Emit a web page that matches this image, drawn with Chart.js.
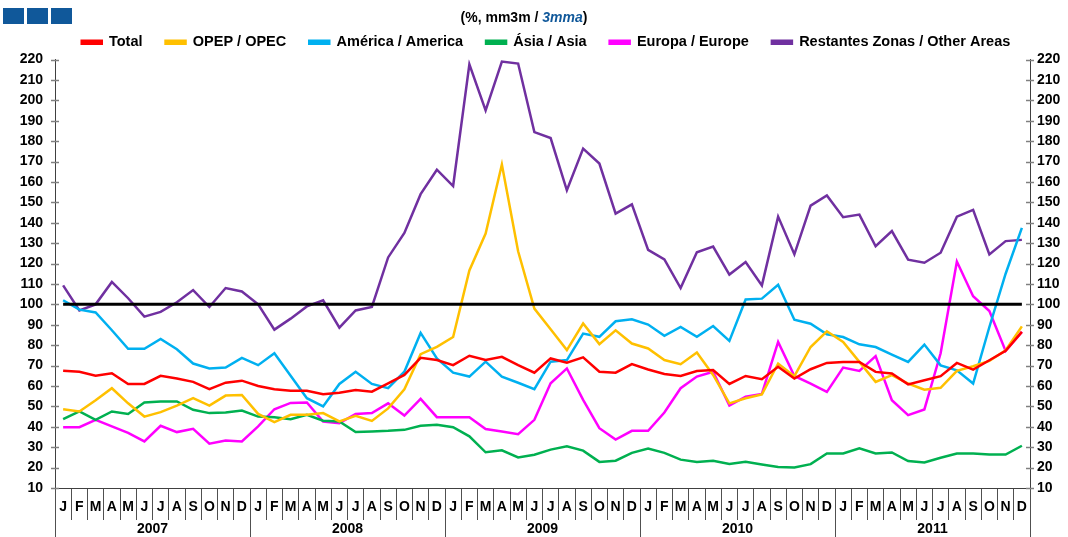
<!DOCTYPE html>
<html>
<head>
<meta charset="utf-8">
<script src="https://cdn.jsdelivr.net/npm/chart.js@4.4.1/dist/chart.umd.min.js"></script>
<style>
  html, body { margin: 0; padding: 0; background: #fff; }
  #wrap { position: relative; width: 1068px; height: 537px; overflow: hidden; }
  #c { position: absolute; left: 0; top: 0; }
  .sq { position: absolute; top: 8px; width: 21px; height: 16px; background: #10589A; }
  #sub { position: absolute; top: 9px; left: 0; width: 1048px; text-align: center;
         font: bold 14px "Liberation Sans", Arial, sans-serif; color: #000; }
  #sub i { color: #10589A; }
</style>
</head>
<body>
<div id="wrap">
  <canvas id="c" width="1068" height="537"></canvas>
  <div class="sq" style="left:3px"></div>
  <div class="sq" style="left:27px"></div>
  <div class="sq" style="left:51px"></div>
  <div id="sub">(%, mm3m / <i>3mma</i>)</div>
</div>
<script>
const MONTHS = ['J','F','M','A','M','J','J','A','S','O','N','D'];
const YEARS = ['2007','2008','2009','2010','2011'];
const Y_MIN = 10, Y_MAX = 220, Y_STEP = 10;
const REF_LEVEL = 100;

const TOTAL = [67.5,67,65,66.2,61,61,65,63.7,62,58.4,61.6,62.6,
  60,58.4,57.7,57.6,56,56.7,58,57.2,61.3,65.4,73.8,72.7,
  70.2,74.8,72.7,74.3,70.2,66.5,73.5,71.4,74,67,66.5,70.7,
  68.1,65.9,64.9,67.3,67.8,61,64.9,63.3,69.4,63.6,68.2,71.3,
  71.8,71.8,66.9,66.1,60.8,62.8,64.8,71.3,68,72.6,77.2,86.5];
const OPEC = [48.6,47.5,53,58.9,51.5,45,47.2,50.4,54,50.4,55.3,55.6,
  46.3,42.3,45.9,45.9,46.7,42.6,45.4,42.9,49,58.4,75.6,79.2,
  84,116.6,134.7,168.5,126,97.9,87.8,77.6,90.6,80.5,87.3,80.8,
  78.4,72.7,70.7,76.4,65.4,51.5,54,55.9,71,64.8,79.1,86.8,
  81.6,71.8,62,65.3,61.2,58.2,59.1,67.4,69.7,72.3,77.5,89.2];
const AMERICA = [102,97.4,96,87.3,78.2,78.2,83,78,71,68.6,69,73.8,
  70.2,76,65,54,50,61,67,61,58.9,67,86,73.5,
  66.5,64.6,71.9,64.6,61.6,58.4,71.9,72.7,85.7,84.1,91.7,92.7,
  90.1,84.6,88.9,84.1,89.4,82.1,102.4,102.8,109.6,92.5,90.5,85.3,
  84,80.4,79.1,75.4,71.8,80.3,70.1,67.7,61.2,88.9,115,137.5];
const ASIA = [43.7,47.5,43.4,47.5,46.3,51.9,52.4,52.4,48.3,46.7,47,48,
  45,44.7,43.7,45.9,43,42.6,37.4,37.7,38,38.5,40.5,41,
  39.8,35.3,27.5,28.5,25,26.3,28.8,30.4,28.3,22.8,23.4,27.2,
  29.3,27.2,23.9,22.8,23.4,21.8,22.8,21.5,20.3,20.1,21.7,26.9,
  26.9,29.4,26.9,27.4,23.2,22.5,24.8,26.9,26.9,26.4,26.4,30.7];
const EUROPE = [39.8,39.8,43.4,40.2,37,32.8,40.5,37.4,39,31.7,33.3,32.8,
  40.2,48.6,51.7,51.9,42.6,41.8,46.3,46.7,51.5,45.5,53.7,44.7,
  44.7,44.7,38.9,37.7,36.4,43.4,61.3,68.6,53.2,39.3,33.7,38,
  38,47,58.9,64.6,67,50.4,54.8,56.1,81.6,64.9,61.2,57.1,
  69,67.4,74.6,53,45.7,48.5,76,121,104,96.7,77.2,86.5];
const OTHER = [109.3,97,100,111,103,94,96.3,101,107,98.7,108,106.3,
  100,87.6,93,99,102,88.6,97,98.7,123,135,154,166,
  158,217.6,195,219,218,184.4,181.5,155.9,176.3,169,144.5,149,
  126.7,122,108,125.5,128.3,114.6,120.7,109.3,143,124.5,148.4,153.4,
  142.7,144,128.5,135.9,121.9,120.4,125.3,143,146.3,124.5,131,131.6];

const labels = [];
YEARS.forEach(() => MONTHS.forEach(m => labels.push(m)));

const FONT = "'Liberation Sans', Arial, sans-serif";

function ds(label, data, color) {
  return { label, data, borderColor: color, backgroundColor: color, borderWidth: 2.5,
           pointRadius: 0, pointHoverRadius: 0, tension: 0, fill: false };
}

const refLine = {
  id: 'refLine',
  afterDatasetsDraw(chart) {
    const x = chart.scales.x, y = chart.scales.y, ctx = chart.ctx;
    const py = y.getPixelForValue(REF_LEVEL);
    ctx.save();
    ctx.strokeStyle = '#000'; ctx.lineWidth = 3;
    ctx.beginPath();
    ctx.moveTo(x.getPixelForValue(0), py);
    ctx.lineTo(x.getPixelForValue(labels.length - 1), py);
    ctx.stroke();
    ctx.restore();
  }
};

const tickMarks = {
  id: 'tickMarks',
  afterDraw(chart) {
    const ctx = chart.ctx;
    ctx.save();
    ctx.strokeStyle = '#808080'; ctx.lineWidth = 1.5;
    ['y', 'y2'].forEach(id => {
      const s = chart.scales[id];
      const ax = id === 'y' ? s.right : s.left;
      s.ticks.forEach(t => {
        const py = Math.round(s.getPixelForValue(t.value)) + 0.5;
        ctx.beginPath();
        ctx.moveTo(ax - 4, py); ctx.lineTo(ax + 4, py);
        ctx.stroke();
      });
    });
    ctx.restore();
  }
};

const legendShift = {
  id: 'legendShift',
  afterLayout(chart) {
    const l = chart.legend;
    if (l) { l.left += 12; l.right += 12; }
  }
};

const yCommon = {
  min: Y_MIN, max: Y_MAX,
  grid: { display: true, drawOnChartArea: false, drawTicks: false },
  border: { display: true, color: '#404040', width: 1 },
  ticks: { stepSize: Y_STEP, color: '#000', font: { family: FONT, size: 14, weight: 'bold' } }
};

new Chart(document.getElementById('c'), {
  type: 'line',
  data: {
    labels,
    datasets: [
      ds('Total', TOTAL, '#FF0000'),
      ds('OPEP / OPEC', OPEC, '#FFC000'),
      ds('América / America', AMERICA, '#00B0F0'),
      ds('Ásia / Asia', ASIA, '#00B050'),
      ds('Europa / Europe', EUROPE, '#FF00FF'),
      ds('Restantes Zonas / Other Areas', OTHER, '#7030A0')
    ]
  },
  options: {
    responsive: false,
    animation: false,
    events: [],
    layout: { padding: { left: 0, right: 0, top: 12, bottom: 0 } },
    plugins: {
      legend: {
        position: 'top',
        labels: { boxWidth: 20, boxHeight: 3, padding: 23, color: '#000',
                  font: { family: FONT, size: 14.5, weight: 'bold' } }
      },
      tooltip: { enabled: false }
    },
    scales: {
      x: {
        type: 'category',
        position: 'bottom',
        offset: true,
        grid: { offset: true, drawOnChartArea: false, tickLength: 32, color: '#505050' },
        border: { display: true, color: '#404040' },
        ticks: { autoSkip: false, maxRotation: 0, padding: -21, color: '#000',
                 font: { family: FONT, size: 14, weight: 'bold' } },
        afterFit: s => { s.height = 32; }
      },
      x2: {
        type: 'category',
        labels: YEARS,
        position: 'bottom',
        offset: true,
        grid: { offset: true, drawOnChartArea: false, tickLength: 17, color: '#505050' },
        border: { display: false },
        ticks: { autoSkip: false, maxRotation: 0, padding: -16, color: '#000',
                 font: { family: FONT, size: 14, weight: 'bold' } },
        afterFit: s => { s.height = 17; }
      },
      y: Object.assign({}, yCommon, {
        position: 'left',
        ticks: Object.assign({}, yCommon.ticks, { padding: 12 }),
        afterFit: s => { s.width = 55; }
      }),
      y2: Object.assign({}, yCommon, {
        position: 'right',
        ticks: Object.assign({}, yCommon.ticks, { padding: 7 }),
        afterFit: s => { s.width = 38; }
      })
    }
  },
  plugins: [refLine, tickMarks, legendShift]
});
</script>
</body>
</html>
